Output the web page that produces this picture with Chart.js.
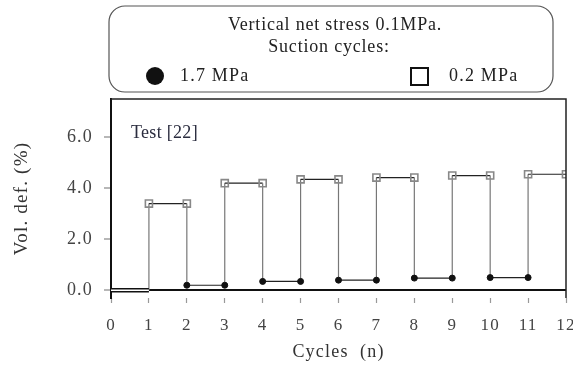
<!DOCTYPE html>
<html>
<head>
<meta charset="utf-8">
<script src="https://cdn.jsdelivr.net/npm/chart.js@4/dist/chart.umd.min.js"></script>
<style>
  html, body { margin: 0; padding: 0; background: #fff; }
  #wrap { width: 573px; height: 375px; }
</style>
</head>
<body>
<div id="wrap"><canvas id="chart" width="573" height="375"></canvas></div>
<script>
// Cycle axis ticks and y-axis ticks
const xTicks = [0, 1, 2, 3, 4, 5, 6, 7, 8, 9, 10, 11, 12];
const yTicks = [0, 2, 4, 6];

// Initial loading segment before the first wetting
const startCycles = [0, 1];
const startDef = [0, 0];

// End points at suction 0.2 MPa (wetting), volumetric deformation in %
const wetCycles = [1, 2, 3, 4, 5, 6, 7, 8, 9, 10, 11, 12];
const wetDef = [3.4, 3.4, 4.2, 4.2, 4.35, 4.35, 4.42, 4.42, 4.5, 4.5, 4.55, 4.55];

// End points at suction 1.7 MPa (drying), volumetric deformation in %
const dryCycles = [2, 3, 4, 5, 6, 7, 8, 9, 10, 11];
const dryDef = [0.2, 0.2, 0.35, 0.35, 0.4, 0.4, 0.48, 0.48, 0.5, 0.5];

// Texts
const boxLines = ['Vertical net stress 0.1MPa.', 'Suction cycles:'];
const seriesNames = ['1.7 MPa', '0.2 MPa'];
const testLabel = 'Test [22]';
const xTitle = 'Cycles  (n)';
const yTitle = 'Vol. def. (%)';

// Stress path: alternate wetting and drying plateaus in time order
const path = startCycles.map((x, i) => ({ x, y: startDef[i] }));
for (let k = 0; k < wetCycles.length / 2; k++) {
  path.push({ x: wetCycles[2 * k], y: wetDef[2 * k] }, { x: wetCycles[2 * k + 1], y: wetDef[2 * k + 1] });
  if (2 * k + 1 < dryCycles.length) {
    path.push({ x: dryCycles[2 * k], y: dryDef[2 * k] }, { x: dryCycles[2 * k + 1], y: dryDef[2 * k + 1] });
  }
}
const startPts = startCycles.map((x, i) => ({ x, y: startDef[i] }));
const wetPts = wetCycles.map((x, i) => ({ x, y: wetDef[i] }));
const dryPts = dryCycles.map((x, i) => ({ x, y: dryDef[i] }));

const SERIF = '"Liberation Serif", "Times New Roman", serif';
const TRACKING = '1.2px';

// Wide tracking for all canvas text
const tracking = {
  id: 'tracking',
  beforeLayout(chart) { chart.ctx.letterSpacing = TRACKING; },
  beforeDraw(chart) { chart.ctx.letterSpacing = TRACKING; }
};

// Frame lines, annotation and the boxed key above the plot
const decorations = {
  id: 'decorations',
  afterDraw(chart) {
    const { ctx, chartArea: a } = chart;
    ctx.save();
    // top and right edges of the frame
    ctx.strokeStyle = '#222';
    ctx.lineWidth = 1.5;
    ctx.beginPath();
    ctx.moveTo(a.left, a.top);
    ctx.lineTo(a.right, a.top);
    ctx.lineTo(a.right, a.bottom);
    ctx.stroke();

    // annotation inside the plot
    ctx.fillStyle = '#2b2d3f';
    ctx.font = '18px ' + SERIF;
    ctx.letterSpacing = '0.3px';
    ctx.textAlign = 'left';
    ctx.textBaseline = 'middle';
    ctx.fillText(testLabel, a.left + 20, 133);

    // key box
    const bx = 109, by = 6, bw = 444, bh = 86, r = 16;
    ctx.strokeStyle = '#555';
    ctx.lineWidth = 1.2;
    ctx.beginPath();
    ctx.roundRect(bx, by, bw, bh, r);
    ctx.stroke();

    ctx.fillStyle = '#222';
    ctx.font = '18px ' + SERIF;
    ctx.letterSpacing = '0.8px';
    ctx.textAlign = 'center';
    ctx.fillText(boxLines[0], 335, 25);
    ctx.fillText(boxLines[1], 329, 47);

    // series keys drawn with the dataset styles
    const dry = chart.data.datasets[3];
    ctx.fillStyle = dry.backgroundColor;
    ctx.beginPath();
    ctx.arc(155, 76, 9, 0, Math.PI * 2);
    ctx.fill();
    ctx.strokeStyle = '#111';
    ctx.lineWidth = 2;
    ctx.strokeRect(411, 68, 17, 17);

    ctx.letterSpacing = TRACKING;
    ctx.fillStyle = '#222';
    ctx.textAlign = 'left';
    ctx.fillText(seriesNames[0], 180, 76);
    ctx.fillText(seriesNames[1], 449, 76);
    ctx.restore();
  }
};

new Chart(document.getElementById('chart'), {
  type: 'scatter',
  data: {
    datasets: [
      {
        label: 'path',
        data: path,
        showLine: true,
        borderColor: '#333',
        borderWidth: 1.2,
        pointRadius: 0,
        segment: {
          borderColor: c => (c.p0.parsed.x === c.p1.parsed.x ? '#777' : '#222')
        },
        order: 5
      },
      {
        label: 'start',
        data: startPts,
        showLine: true,
        borderColor: '#111',
        borderWidth: 4.5,
        pointRadius: 0,
        order: 4
      },
      {
        label: seriesNames[1],
        data: wetPts,
        showLine: false,
        pointStyle: 'rect',
        pointRadius: 5,
        borderColor: '#888',
        borderWidth: 1.6,
        backgroundColor: 'rgba(255,255,255,0)',
        order: 1
      },
      {
        label: seriesNames[0],
        data: dryPts,
        showLine: false,
        pointStyle: 'circle',
        pointRadius: 3,
        borderColor: '#111',
        borderWidth: 1,
        backgroundColor: '#111',
        order: 2
      },
      {
        label: 'start-inner',
        data: startPts,
        showLine: true,
        borderColor: '#fff',
        borderWidth: 1.5,
        pointRadius: 0,
        order: 3
      }
    ]
  },
  options: {
    responsive: false,
    animation: false,
    devicePixelRatio: 1,
    layout: { padding: { top: 99, right: 0, bottom: 0, left: 0 } },
    plugins: { legend: { display: false }, tooltip: { enabled: false } },
    scales: {
      x: {
        type: 'linear',
        min: 0,
        max: 12,
        afterBuildTicks: s => { s.ticks = xTicks.map(v => ({ value: v })); },
        afterFit: s => { s.height = 77; s.paddingRight = 7; s.paddingLeft = 0; },
        border: { display: false },
        grid: { drawOnChartArea: false, tickLength: 5, tickColor: '#999', tickWidth: 1.2 },
        ticks: {
          padding: 12,
          color: '#444',
          font: { family: SERIF, size: 17 },
          maxRotation: 0
        },
        title: {
          display: true,
          text: xTitle,
          color: '#333',
          font: { family: SERIF, size: 18 },
          padding: { top: 0, bottom: 12 }
        }
      },
      y: {
        min: -0.3,
        max: 7.5,
        afterBuildTicks: s => { s.ticks = yTicks.map(v => ({ value: v })); },
        afterFit: s => { s.width = 111; },
        border: { display: true, color: '#111', width: 2 },
        grid: {
          color: c => (c.tick && c.tick.value === 0 ? '#111' : 'rgba(0,0,0,0)'),
          lineWidth: 2,
          tickColor: '#888',
          tickLength: 7,
          tickWidth: 1.2
        },
        ticks: {
          padding: 11,
          color: '#444',
          font: { family: SERIF, size: 18 },
          callback: v => Number(v).toFixed(1)
        },
        title: {
          display: true,
          text: yTitle,
          color: '#333',
          font: { family: SERIF, size: 19 },
          padding: { top: 11, bottom: 4 }
        }
      }
    }
  },
  plugins: [tracking, decorations]
});
</script>
</body>
</html>
